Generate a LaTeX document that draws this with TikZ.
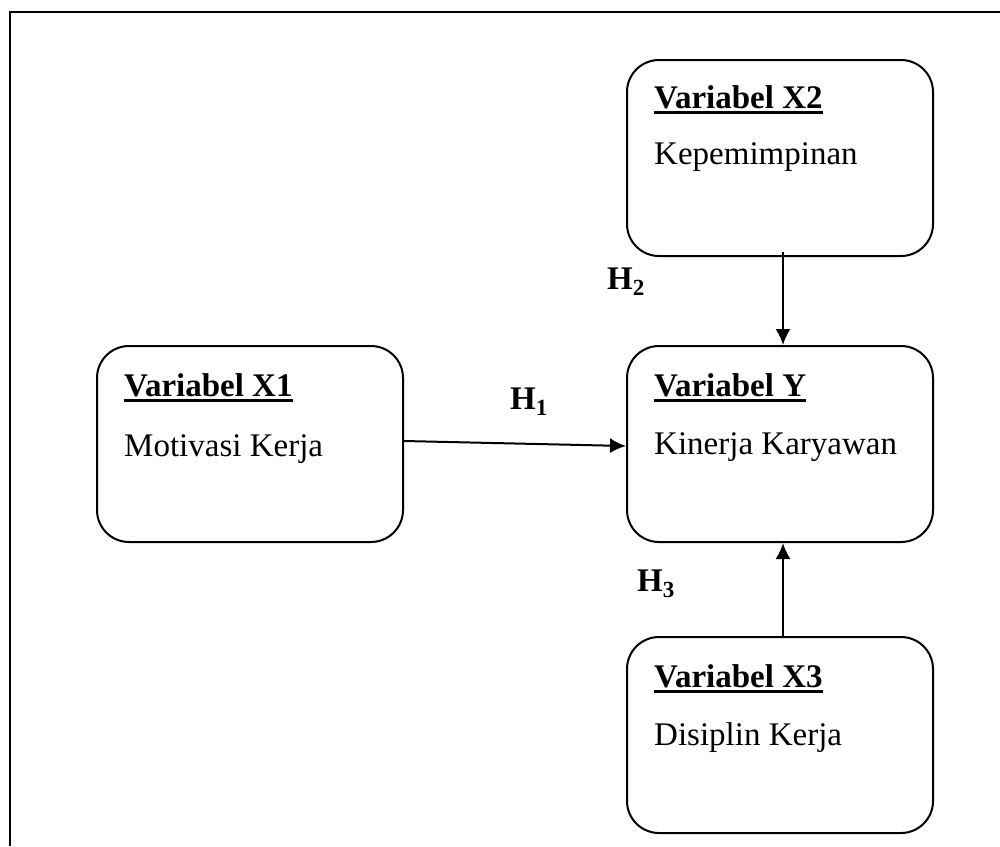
\documentclass[tikz,border=0pt]{standalone}
\usepackage{fontspec}
\setmainfont{Liberation Serif}
\usetikzlibrary{positioning,arrows.meta}

\newcommand{\ulvar}[1]{\setbox0\hbox{\textbf{#1}}\rlap{\rule[-6pt]{\wd0}{3.5pt}}\box0}

\begin{document}
\begin{tikzpicture}[x=1pt,y=-1pt]
      \tikzset{varbox/.style={draw,line width=2pt,rounded corners=32pt,minimum width=306pt,minimum height=196pt,inner sep=0pt}}
      \tikzset{vartext/.style={inner sep=0pt,anchor=base west,font=\fontsize{33}{39}\selectfont}}
      \tikzset{arrow/.style={-{Latex[length=16pt,width=15pt]},line width=2pt}}
      \useasboundingbox (0,0) rectangle (1000,846);
      \draw[line width=2pt] (1000,12) -- (10,12) -- (10,846);
      % boxes
      \node[varbox] (y) at (780,444) {};
      \node[varbox,left=222pt of y] (x1) {};
      \node[varbox,above=88pt of y] (x2) {};
      \node[varbox,below=93pt of y] (x3) {};
      % texts
      \node[vartext] (x1t) at ([shift={(28pt,-51pt)}]x1.north west) {\ulvar{Variabel X1}};
      \node[vartext] (x1b) at ([yshift=-60pt]x1t.base west) {Motivasi Kerja};
      \node[vartext] (x2t) at ([shift={(28pt,-49pt)}]x2.north west) {\ulvar{Variabel X2}};
      \node[vartext] (x2b) at ([yshift=-56pt]x2t.base west) {Kepemimpinan};
      \node[vartext] (yt) at ([shift={(28pt,-51pt)}]y.north west) {\ulvar{Variabel Y}};
      \node[vartext] (yb) at ([yshift=-58pt]yt.base west) {Kinerja Karyawan};
      \node[vartext] (x3t) at ([shift={(28pt,-51pt)}]x3.north west) {\ulvar{Variabel X3}};
      \node[vartext] (x3b) at ([yshift=-58pt]x3t.base west) {Disiplin Kerja};
      % hypotheses
      \node[vartext] (h1) at (510,409) {\textbf{H\textsubscript{1}}};
      \node[vartext] (h2) at (607,289) {\textbf{H\textsubscript{2}}};
      \node[vartext] (h3) at (637,591) {\textbf{H\textsubscript{3}}};
      % arrows
      \draw[arrow] ([yshift=3pt]x1.east) -- ([yshift=-2pt]y.west);
      \draw[arrow] ([shift={(3pt,5pt)}]x2.south) -- ([xshift=3pt]y.north);
      \draw[arrow] ([xshift=3pt]x3.north) -- ([xshift=3pt]y.south);
\end{tikzpicture}
\end{document}
